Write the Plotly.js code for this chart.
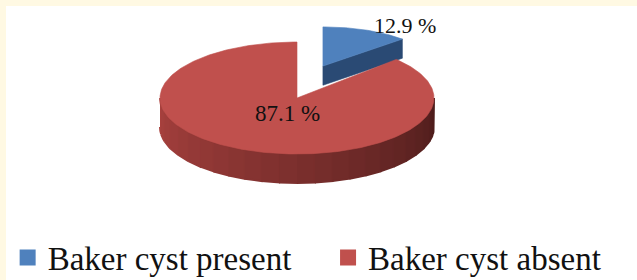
<!DOCTYPE html>
<html>
<head>
<meta charset="utf-8">
<script src="https://cdn.plot.ly/plotly-3.0.1.min.js"></script>
<style>html,body{margin:0;padding:0;background:#fff;}#chart{width:637px;height:280px;}</style>
</head>
<body>
<div id="chart"></div>
<script>
// ---- data ----
const categories = ['Baker cyst present', 'Baker cyst absent'];
const values = [12.9, 87.1];
const sliceLabels = ['12.9 %', '87.1 %'];
const topColors = ['#4F81BD', '#C0504D'];

// ---- style / geometry (pixels) ----
const CX = 297, CY = 98, RX = 137, RY = 56, THICK = 29;
const sideDark = { 0: ['#35598A', '#2A4A74'], 1: ['#AA423F', '#4C1C1B'] };
const pullX = 0.48, pullY = 0.62;
const sliceScale = [[0.8, 0.7, 0.66], [1, 1, 1]]; // sx, sy, thickness factor (perspective)

function hexToRgb(h){h=h.replace('#','');return [0,2,4].map(i=>parseInt(h.substr(i,2),16));}
function mix(a,b,t){const A=hexToRgb(a),B=hexToRgb(b);return 'rgb('+A.map((v,i)=>Math.round(v+(B[i]-v)*t)).join(',')+')';}

const total = values.reduce((s,v)=>s+v,0);
const traces = [];
let start = 0;
const geo = values.map((v,i)=>{const a0=start; const a1=start+v/total*360; start=a1; return {a0,a1};});

function poly(xs, ys, color, lw){
  traces.push({type:'scatter', mode:'lines', x:xs, y:ys, fill:'toself', fillcolor:color,
    line:{color:color, width:(lw===undefined?0.6:lw)}, hoverinfo:'skip', showlegend:false});
}

geo.forEach((g,i)=>{
  const [sx, sy, tf] = sliceScale[i];
  const mid = (g.a0+g.a1)/2*Math.PI/180;
  let ox = CX, oy = CY;
  if (i===0){ ox = CX + pullX*RX*Math.sin(mid); oy = CY - pullY*RY*Math.cos(mid); }
  const h = THICK*tf;
  const P = (deg, dh)=>{const r=deg*Math.PI/180; return [ox + sx*RX*Math.sin(r), oy - sy*RY*Math.cos(r) + dh];};
  // outer wall (front part 90..270)
  const w0 = Math.max(g.a0, 90), w1 = Math.min(g.a1, 270);
  if (w1 > w0){
    const N = 24;
    for (let k=0;k<N;k++){
      const b0 = w1 - (w1-w0)*k/N, b1 = w1 - (w1-w0)*(k+1)/N;
      const xs=[], ys=[];
      for (let s=0;s<=6;s++){const p=P(b0+(b1-b0)*s/6,0);xs.push(p[0]);ys.push(p[1]);}
      for (let s=6;s>=0;s--){const p=P(b0+(b1-b0)*s/6,h);xs.push(p[0]);ys.push(p[1]);}
      const t = 1 - ((b0+b1)/2 - 90)/180;
      poly(xs, ys, mix(sideDark[i][0], sideDark[i][1], t), 2);
    }
  }
  // cut faces
  [[g.a1, Math.sin(g.a1*Math.PI/180) > 0.01],[g.a0, Math.sin(g.a0*Math.PI/180) < -0.01]].forEach(([a,vis])=>{
    if(!vis) return;
    const e0 = P(a,0), e1 = P(a,h);
    poly([ox, e0[0], e1[0], ox, ox], [oy, e0[1], e1[1], oy+h, oy], sideDark[i][1]);
  });
  // top face
  const xs=[ox], ys=[oy];
  for (let d=g.a0; d<=g.a1+1e-9; d+=1){const p=P(d,0);xs.push(p[0]);ys.push(p[1]);}
  const pe=P(g.a1,0); xs.push(pe[0]); ys.push(pe[1]);
  xs.push(ox); ys.push(oy);
  poly(xs, ys, topColors[i]);
});

// legend entries (one legend box per entry to reproduce the wide spacing)
categories.forEach((c,i)=>{
  traces.push({type:'scatter', mode:'markers', x:[null], y:[null], name:c,
    legend: i===0 ? 'legend' : 'legend2',
    marker:{symbol:'square', size:16, color:topColors[i]}, hoverinfo:'skip', showlegend:true});
});

const legFont = {family:'Liberation Serif', size:33, color:'#111'};
const layout = {
  width:637, height:280, autosize:false,
  margin:{l:0,r:0,t:0,b:0, autoexpand:false},
  paper_bgcolor:'#ffffff', plot_bgcolor:'rgba(0,0,0,0)',
  xaxis:{range:[0,637], visible:false, fixedrange:true},
  yaxis:{range:[280,0], visible:false, fixedrange:true},
  showlegend:true,
  legend:{orientation:'h', x:0.012, xanchor:'left', y:0.08, yanchor:'middle',
    bgcolor:'rgba(0,0,0,0)', font:legFont, itemwidth:30},
  legend2:{orientation:'h', x:0.515, xanchor:'left', y:0.08, yanchor:'middle',
    bgcolor:'rgba(0,0,0,0)', font:legFont, itemwidth:30},
  shapes:[
    {type:'rect', xref:'x', yref:'y', x0:0, x1:637, y0:0, y1:6, fillcolor:'#FFF9E3', line:{width:0}, layer:'below'},
    {type:'rect', xref:'x', yref:'y', x0:0, x1:6, y0:0, y1:280, fillcolor:'#FFF9E3', line:{width:0}, layer:'below'}
  ],
  annotations:[
    {x:405, y:25, xref:'x', yref:'y', text:sliceLabels[0], showarrow:false, font:{family:'Liberation Serif', size:22, color:'#111'}},
    {x:287, y:113, xref:'x', yref:'y', text:sliceLabels[1], showarrow:false, font:{family:'Liberation Serif', size:23, color:'#111'}}
  ]
};
Plotly.newPlot('chart', traces, layout, {staticPlot:true, displayModeBar:false});
</script>
</body>
</html>
